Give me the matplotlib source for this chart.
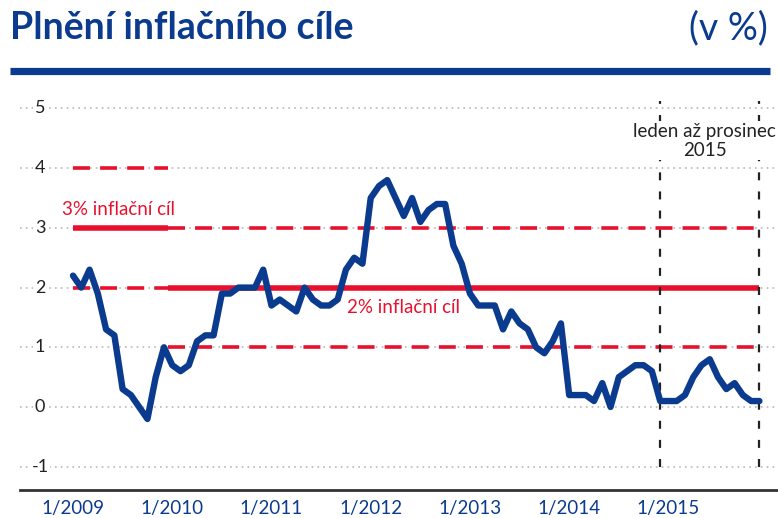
import matplotlib
matplotlib.use("Agg")
import matplotlib.pyplot as plt
import matplotlib.transforms as mtrans
import numpy as np

# ---- data ----
years = [2009, 2010, 2011, 2012, 2013, 2014, 2015]
tick_labels = ["1/2009", "1/2010", "1/2011", "1/2012", "1/2013", "1/2014", "1/2015"]
inflation = [
    2.2, 2.0, 2.3, 1.9, 1.3, 1.2, 0.3, 0.2, 0.0, -0.2, 0.5, 1.0,   # 2009
    0.7, 0.6, 0.7, 1.1, 1.2, 1.2, 1.9, 1.9, 2.0, 2.0, 2.0, 2.3,    # 2010
    1.7, 1.8, 1.7, 1.6, 2.0, 1.8, 1.7, 1.7, 1.8, 2.3, 2.5, 2.4,    # 2011
    3.5, 3.7, 3.8, 3.5, 3.2, 3.5, 3.1, 3.3, 3.4, 3.4, 2.7, 2.4,    # 2012
    1.9, 1.7, 1.7, 1.7, 1.3, 1.6, 1.4, 1.3, 1.0, 0.9, 1.1, 1.4,    # 2013
    0.2, 0.2, 0.2, 0.1, 0.4, 0.0, 0.5, 0.6, 0.7, 0.7, 0.6, 0.1,    # 2014
    0.1, 0.1, 0.2, 0.5, 0.7, 0.8, 0.5, 0.3, 0.4, 0.2, 0.1, 0.1,    # 2015
]
target_old = 3.0   # until 12/2009
target_new = 2.0   # from 1/2010
band = 1.0
yticks = [-1, 0, 1, 2, 3, 4, 5]

BLUE = "#0b3b8f"
RED = "#e8112d"
FONT = "Lato"

months = np.arange(len(inflation))
switch = 11.5
last = months[-1]

fig = plt.figure(figsize=(7.78, 5.18), dpi=100)
ax = fig.add_axes([20 / 778, 28 / 518, 758 / 778, (490 - 99.5) / 518])
ax.set_xlim(-6.41, 85.25)
ax.set_ylim(-1.39, 5.15)

# grid + y labels
lab_tr = mtrans.blended_transform_factory(mtrans.IdentityTransform(), ax.transData)
for yv in yticks:
    ax.axhline(yv, color="#b8b8b8", lw=1.2, ls=(0, (1, 2.5)), zorder=0)
    ax.text(40, yv, f"{yv}", transform=lab_tr,
            ha="center", va="center", fontsize=13, color="#222222", family=FONT,
            bbox=dict(facecolor="white", edgecolor="none", pad=1.0), zorder=1)

# target bands
DASH = (0, (4.7, 2.8))
ax.plot([0, switch], [target_old, target_old], color=RED, lw=4, solid_capstyle="butt", zorder=2)
ax.plot([0, switch], [target_old + band] * 2, color=RED, lw=2.6, ls=DASH, zorder=2)
ax.plot([0, switch], [target_old - band] * 2, color=RED, lw=2.6, ls=DASH, zorder=2)
ax.plot([switch, last], [target_new, target_new], color=RED, lw=4, solid_capstyle="butt", zorder=2)
ax.plot([switch, last], [target_new + band] * 2, color=RED, lw=2.6, ls=DASH, zorder=2)
ax.plot([switch, last], [target_new - band] * 2, color=RED, lw=2.6, ls=DASH, zorder=2)

# vertical period markers
for xv in [71, last]:
    ax.plot([xv, xv], [-1.0, 5.12], color="#222222", lw=1.6, ls=(0, (3.6, 5)), zorder=2)

# series
ax.plot(months, inflation, color=BLUE, lw=4.6, solid_joinstyle="round",
        solid_capstyle="round", zorder=4)

# annotations
ax.text(-1.33, 3.3, "3% inflační cíl", color=RED, fontsize=13.5, family=FONT,
        ha="left", va="center", zorder=5)
ax.text(33.1, 1.66, "2% inflační cíl", color=RED, fontsize=13.5, family=FONT,
        ha="left", va="center", zorder=5)
ax.text(76.4, 4.46, "leden až prosinec\n2015", color="#222222", fontsize=13.5, family=FONT,
        ha="center", va="center", linespacing=1.15,
        bbox=dict(facecolor="white", edgecolor="none", pad=1.0), zorder=5)

# x axis
ax.set_xticks([12 * i for i in range(len(years))])
ax.set_xticklabels(tick_labels, fontsize=13.5, color=BLUE, family=FONT)
ax.tick_params(axis="x", length=0, pad=7)
ax.set_yticks([])
for s in ["top", "right", "left"]:
    ax.spines[s].set_visible(False)
ax.spines["bottom"].set_color("#333333")
ax.spines["bottom"].set_linewidth(2)

# header
fig.text(10 / 778, 1 - 28 / 518, "Plnění inflačního cíle", color=BLUE, fontsize=27,
         fontweight="bold", family=FONT, ha="left", va="center")
fig.text(768 / 778, 1 - 28 / 518, "(v %)", color=BLUE, fontsize=27, family=FONT,
         ha="right", va="center")
fig.add_artist(matplotlib.lines.Line2D([10 / 778, 770 / 778], [1 - 70.5 / 518] * 2,
                                       color=BLUE, lw=5.2, solid_capstyle="butt"))

fig.savefig("out.png", dpi=100)
